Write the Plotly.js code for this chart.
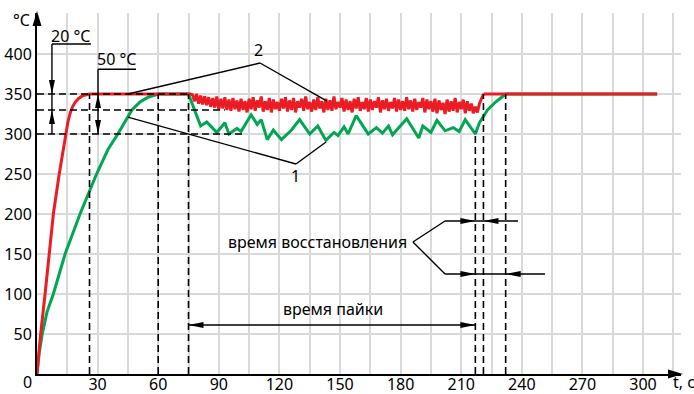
<!DOCTYPE html>
<html><head><meta charset="utf-8">
<script src="https://cdn.plot.ly/plotly-3.0.1.min.js"></script>
<style>html,body{margin:0;padding:0;background:#fff}#chart{width:694px;height:394px}</style>
</head><body><div id="chart"></div>
<script>
// ---- tick labels ----
const xTickVals = [15,30,45,60,75,90,105,120,135,150,165,180,195,210,225,240,255,270,285,300,315];
const xTickText = ['','30','','60','','90','','120','','150','','180','','210','','240','','270','','300',''];
const yTickVals = [50,100,150,200,250,300,350,400,450];
const yTickText = ['50','100','150','200','250','300','350','400',''];

// ---- curve 2 (red) ----
const redHeatT = [0,1.8,4,6.1,8.1,11,13,14.2,15.3,16.4,17.6,19,20.6,22.4,24.2,26,75];
const redHeatV = [0,50,100,150,200,250,280,300,315,326,334,340,344.5,347.6,349.3,350,350];
const redSolderStart = 75;   // s, one value per second
const redSolderV = [
 350,350,349,341,350,338,348,337,347,336,
 346,334,345,333,347,331,344,332,346,330,
 343,329,345,331,342,328,344,330,341,327,
 344,331,346,329,342,333,347,328,341,330,
 345,327,343,331,340,329,344,332,346,328,
 342,330,345,327,341,333,344,329,347,331,
 340,328,343,330,346,332,341,327,344,330,
 342,329,347,331,340,333,345,328,343,330,
 341,327,344,332,346,329,340,331,345,328,
 343,330,341,333,346,327,342,331,344,329,
 340,332,345,328,343,330,341,329,346,331,
 342,328,344,330,340,333,345,327,343,331,
 341,328,344,326,342,330,339,325,343,328,
 341,329,345,327,340,331,343,326,341,329,
 338,326,334,327,338,345,350];
const redHoldT = [221,307];
const redHoldV = [350,350];

// ---- curve 1 (green) ----
const greenT = [0,1,2.6,5,8.1,13.9,21.3,29.5,35,40,47,51,55,60,75,
 81,84,89,93,95,99,101,106,109,111,114,117,121,126,130,135,139,143,147,149,152,154,158,164,168,171,174,176,183,189,191,195,198,202,206,209,212,217,
 219,223,227,230,232,307];
const greenV = [0,25,50,78,100,150,200,250,280,300,330,340,346,350,350,
 310,315,302,314,300,307,303,324,312,318,293,305,293,305,318,300,310,292,302,298,309,300,323,300,308,301,310,299,319,295,310,302,317,304,308,303,318,300,
 314,330,340,346,350,350];

// ---- reference marks ----
const levels = [350,330,300];
const levelEnds = [75,93,102];
const markTimes = [26,60,75,217,221,232];
const markTops = [350,350,350,303,350,350];

const RED = '#ec1c24', GREEN = '#00a651';
const FONT = 'Noto Sans, DejaVu Sans, sans-serif';

const traces = [
 {x: greenT, y: greenV, mode:'lines', line:{color:GREEN, width:3}, hoverinfo:'skip'},
 {x: redHeatT, y: redHeatV, mode:'lines', line:{color:RED, width:3}, hoverinfo:'skip'},
 {x0: redSolderStart, dx: 1, y: redSolderV, mode:'lines', line:{color:RED, width:3}, hoverinfo:'skip'},
 {x: redHoldT, y: redHoldV, mode:'lines', line:{color:RED, width:3}, hoverinfo:'skip'}
];

const shapes = [];
function seg(x0,y0,x1,y1,dash){
  shapes.push({type:'line', xref:'x', yref:'y', x0:x0, y0:y0, x1:x1, y1:y1,
    line:{color:'#000', width: dash ? 1.6 : 1.4, dash: dash ? '7px,4px' : 'solid'}});
}
const HEADS = {
  right:'M0,0 L-15,-3 L-15,3 Z', left:'M0,0 L15,-3 L15,3 Z',
  up:'M0,0 L-3,-14 L3,-14 Z', down:'M0,0 L-3,14 L3,14 Z',
  axUp:'M0,2 L-4.5,-13 L4.5,-13 Z', axRight:'M2,0 L-13,-4.5 L-13,4.5 Z'
};
function head(x,y,dir,ref){
  shapes.push({type:'path', xref: ref||'x', yref: ref||'y', xsizemode:'pixel', ysizemode:'pixel',
    xanchor:x, yanchor:y, path:HEADS[dir], fillcolor:'#000', line:{width:0}});
}
// dashed guides
levels.forEach((v,i)=>seg(0,v,levelEnds[i],v,true));
markTimes.forEach((t,i)=>seg(t,0,t,markTops[i],true));
// 20 °C
seg(7.4,412.5,26.7,412.5); seg(7.4,412.5,7.4,300);
head(7.4,350,'down'); head(7.4,330,'up');
// 50 °C
seg(30.2,381,49,381); seg(30.2,381,30.2,300);
head(30.2,350,'up'); head(30.2,300,'down');
// leader 2
seg(45,350,110.4,388.75); seg(110.4,388.75,143.6,341);
// leader 1
seg(45,321,128.2,262.5); seg(128.2,262.5,143.1,290);
// soldering time
seg(75,61.25,217,61.25); head(75,61.25,'left'); head(217,61.25,'right');
// recovery time
seg(186.1,165,202,191.25); seg(202,191.25,238.1,191.25);
seg(186.1,165,202,125); seg(202,125,251.5,125);
head(217,191.25,'right'); head(221,191.25,'left');
head(217,125,'right'); head(232,125,'left');
// axis arrows
head(0,1,'axUp','paper'); head(1,0,'axRight','paper');

function txt(text,x,y,ref,anchor){
  return {text:text, x:x, y:y, xref:ref||'x', yref:ref||'y', showarrow:false,
    xanchor:anchor||'center', yanchor:'middle', font:{family:FONT, size:16, color:'#000'}};
}
const annotations = [
  txt('°C', -0.0233, 0.9806, 'paper'),
  txt('0', -0.0155, -0.022, 'paper'),
  txt('t, c', 0.9845, -0.022, 'paper', 'left'),
  txt('20 °C', 16.8, 422.5),
  txt('50 °C', 39.6, 393.75),
  txt('2', 109.4, 405),
  txt('1', 128.2, 247.5),
  txt('время пайки', 146.5, 81),
  txt('время восстановления', 184.2, 165, 'x', 'right')
];

const layout = {
  width:694, height:394,
  margin:{l:37, r:13, t:13, b:20},
  paper_bgcolor:'#fff', plot_bgcolor:'#fff',
  showlegend:false,
  font:{family:FONT, size:16, color:'#000'},
  xaxis:{range:[0,318.8], tickmode:'array', tickvals:xTickVals, ticktext:xTickText,
    showgrid:true, gridcolor:'#d9d9d9', gridwidth:2, zeroline:false,
    showline:true, linecolor:'#000', linewidth:2, ticks:'', fixedrange:true,
    ticklabelstandoff:-5,
    tickfont:{family:FONT, size:16, color:'#000'}},
  yaxis:{range:[0,451.25], tickmode:'array', tickvals:yTickVals, ticktext:yTickText,
    showgrid:true, gridcolor:'#d9d9d9', gridwidth:2, zeroline:false,
    showline:true, linecolor:'#000', linewidth:2, ticks:'', fixedrange:true,
    tickfont:{family:FONT, size:16, color:'#000'}},
  shapes:shapes, annotations:annotations
};
Plotly.newPlot('chart', traces, layout, {staticPlot:true, displayModeBar:false});
</script></body></html>
